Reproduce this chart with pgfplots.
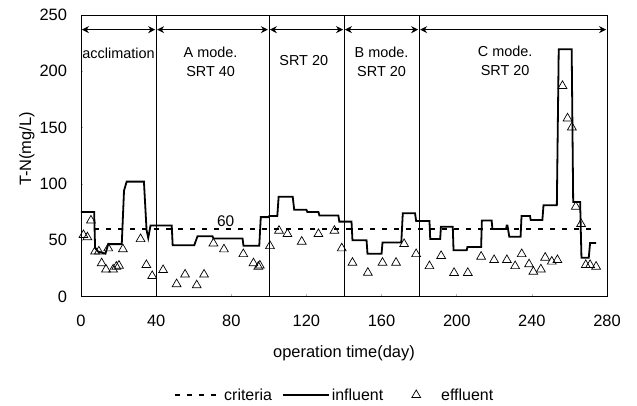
\documentclass[border=0pt]{standalone}
\usepackage{fontspec}
\setmainfont{Liberation Sans}
\usepackage{pgfplots}
\pgfplotsset{compat=1.18}
\usetikzlibrary{arrows.meta}
\begin{document}
\begin{tikzpicture}
\begin{axis}[
  name=ax,
  scale only axis,
  width=526bp, height=281.5bp,
  xmin=0, xmax=280, ymin=0, ymax=250,
  xtick={0,40,...,280}, ytick={0,50,...,250},
  clip=false,
  axis line style={black, line width=0.8bp},
  tick style={gray!60, line width=0.5bp},
  major tick length=2.5bp,
  tick align=inside,
  xtick pos=bottom, ytick pos=left,
  /pgf/number format/assume math mode=true,
  tick label style={font=\fontsize{16.5}{18}\selectfont},
  xticklabel style={yshift=-15bp},
  yticklabel style={xshift=-10.5bp},
  xlabel={operation time(day)},
  ylabel={T-N(mg/L)},
  every axis x label/.style={at={(axis description cs:0.5,-0.2)},anchor=center,font=\fontsize{16.5}{18}\selectfont},
  every axis y label/.style={at={(axis description cs:-0.1027,0.524)},rotate=90,anchor=center,font=\fontsize{16.5}{18}\selectfont},
  legend style={at={(axis description cs:0.482,-0.35)},anchor=center,draw=none,fill=none,
    font=\fontsize{16}{18}\selectfont, legend columns=3,
    /tikz/every odd column/.style={column sep=0bp},
    /tikz/every even column/.style={column sep=8bp}},
  legend image code/.code={\path[draw=none,fill=none] (0bp,-4bp) rectangle (46bp,4bp);\draw[mark repeat=2,mark phase=2,#1] plot coordinates {(0bp,0bp) (23bp,0bp) (46bp,0bp)};},
]
% criteria
\addplot[black, line width=2.4bp, dash pattern=on 5bp off 7bp] coordinates {(7,60) (274,60)};
\addlegendentry{criteria}
% influent
\addplot[black, line width=1.8bp, line join=miter] coordinates {
(0,75) (7,75) (7.5,43) (9,40) (13,38) (14.5,46.5) (21.7,46.5) (22.9,94) (24.3,102) (33.5,102)
(34.9,59) (35.8,52) (37,63) (48.3,63) (48.8,45.5) (60.3,45.5) (62,53.5) (70,53.5) (70.5,51.5)
(86,51.5) (86.5,45) (94.9,45) (95.7,70.5) (100,70.5) (100.2,71.5) (104.5,71.5) (105.2,88.5)
(112.7,88.5) (113.5,77) (120,77) (120.5,75) (126.4,75) (126.9,72) (137,72) (137.5,66.5)
(144,66.5) (144.5,50) (152,50) (152.5,38) (160,38) (160.5,48) (170.5,48) (171.3,74) (177.8,74)
(178.4,67) (185.5,67) (185.9,51) (191.2,51) (191.6,62) (197.9,62) (198.3,41) (205.3,41)
(205.7,44) (213,44) (213.4,67.5) (218.6,67.5) (219,60) (226.3,60) (226.6,63) (227,63) (228,53)
(234,53) (234.5,71.5) (239,71.5) (239.4,68) (245.6,68) (246.2,81) (253.3,81) (254.3,219.5)
(261.2,219.5) (262,84) (265.7,84) (266.4,34.5) (270.3,34.5) (271,47.5) (274.2,47.5)
};
\addlegendentry{influent}
% effluent
\addplot[only marks, mark=triangle, mark size=5.1bp, mark options={black, line width=0.7bp}] coordinates {
(1.3,54.6) (3.4,52.6) (5.3,67.5) (7.5,40) (9.5,40) (11,29.5) (13.3,24) (14.5,42.8) (17.1,24)
(18.8,26.5) (20.2,27.4) (22.3,42) (31.7,51) (34.8,28) (37.9,18.2) (43.7,23.5) (50.9,11)
(55.4,19.5) (61.6,10) (65.5,19.5) (70.5,47.2) (76.1,41.9) (86.4,37.7) (91.8,29.5) (94.4,26.5)
(95.2,27.5) (100.6,44.8) (105.4,58.4) (109.9,55.5) (117.5,48.7) (126.4,55.5) (134.9,58.4)
(138.8,42.8) (144.5,30) (152.7,21.1) (160.5,30) (167.7,30) (172,46.6) (178.4,37.7) (185.5,27)
(191.7,36) (198.6,21) (205.9,21) (213,35.4) (219.9,32.4) (226.7,32.4) (231.1,27) (234.6,37.7)
(238.5,28.6) (240.8,22) (244.8,24.1) (247.1,34.5) (250.6,31) (253.6,32.4) (256.3,187)
(259,158.2) (261.3,150.2) (263.4,79.8) (266.2,64.4) (268.7,28) (271,28) (274.2,26.5)
};
\addlegendentry{effluent}
% separators
\foreach \x in {40,100,140,180} {
  \edef\tmp{\noexpand\draw[black, line width=0.7bp] (axis cs:\x,0) -- (axis cs:\x,250);}\tmp
}
% arrows
\draw[black, line width=1.3bp, {Stealth[length=7bp,width=7bp]}-{Stealth[length=7bp,width=7bp]}] (axis cs:0.5,237) -- (axis cs:39.5,237);
\draw[black, line width=1.3bp, {Stealth[length=7bp,width=7bp]}-{Stealth[length=7bp,width=7bp]}] (axis cs:40.5,237) -- (axis cs:99.5,237);
\draw[black, line width=1.3bp, {Stealth[length=7bp,width=7bp]}-{Stealth[length=7bp,width=7bp]}] (axis cs:100.5,237) -- (axis cs:139.5,237);
\draw[black, line width=1.3bp, {Stealth[length=7bp,width=7bp]}-{Stealth[length=7bp,width=7bp]}] (axis cs:140.5,237) -- (axis cs:179.5,237);
\draw[black, line width=1.3bp, {Stealth[length=7bp,width=7bp]}-{Stealth[length=7bp,width=7bp]}] (axis cs:180.5,237) -- (axis cs:279.5,237);
% labels
\node[font=\fontsize{14.5}{19}\selectfont, align=center] at (axis cs:20,216) {acclimation};
\node[font=\fontsize{14.5}{19}\selectfont, align=center] at (axis cs:69,208) {A mode.\\SRT 40};
\node[font=\fontsize{14.5}{19}\selectfont, align=center] at (axis cs:118.6,210) {SRT 20};
\node[font=\fontsize{14.5}{19}\selectfont, align=center] at (axis cs:160,208) {B mode.\\SRT 20};
\node[font=\fontsize{14.5}{19}\selectfont, align=center] at (axis cs:225.8,209) {C mode.\\SRT 20};
\node[font=\fontsize{15.5}{18}\selectfont] at (axis cs:77,66.5) {60};
\end{axis}
\path ([xshift=-81bp,yshift=-109.5bp]ax.south west) rectangle ([xshift=30bp,yshift=15bp]ax.north east);
\end{tikzpicture}
\end{document}
